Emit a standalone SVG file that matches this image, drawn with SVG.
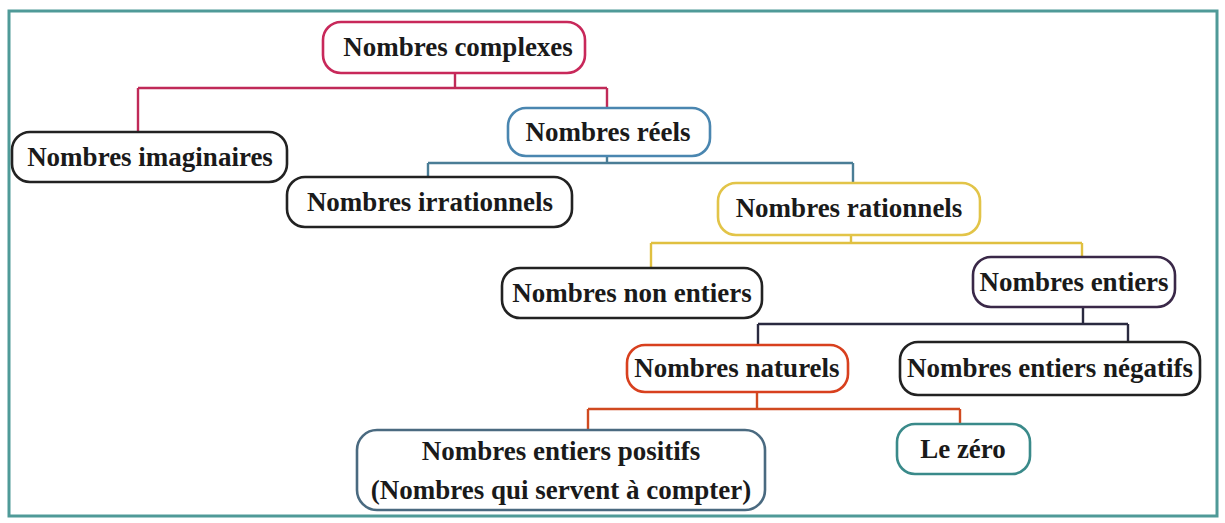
<svg xmlns="http://www.w3.org/2000/svg" width="1225" height="523" viewBox="0 0 1225 523">
<style>
.frame{fill:#fff;stroke:#4f9a98;stroke-width:3}
.box{fill:#fff;stroke-width:2.6}
.t{font-family:"Liberation Serif","Times New Roman",serif;font-weight:bold;font-size:27px;fill:#1a1a1a;text-anchor:middle;dominant-baseline:central}
.c{fill:none;stroke-width:2.4}
</style>
<rect width="1225" height="523" fill="#fff"/>
<rect class="frame" x="9" y="11" width="1208" height="505"/>
<g id="connectors">
<path class="c" stroke="#c02a58" d="M455 73V88M138 88H607M138 88V132M607 88V108"/>
<path class="c" stroke="#4a7d96" d="M607 156V163M428 163H853M428 163V177M853 163V183"/>
<path class="c" stroke="#e0c040" d="M851 235V243M651 243H1082M651 243V268M1082 243V258"/>
<path class="c" stroke="#2a2a40" d="M1083 307V324M758 324H1128M758 324V345M1128 324V342"/>
<path class="c" stroke="#d04a20" d="M757 392V409M588 409H960M588 409V430M960 409V425"/>
</g>
<g id="n-complexes"><rect class="box" stroke="#c8285a" x="323" y="22" width="262" height="51" rx="18"/><text class="t" x="458" y="47">Nombres complexes</text></g>
<g id="n-imaginaires"><rect class="box" stroke="#222" x="12" y="132" width="275" height="50" rx="18"/><text class="t" x="150" y="157">Nombres imaginaires</text></g>
<g id="n-reels"><rect class="box" stroke="#4a86b0" x="508" y="108" width="202" height="48" rx="18"/><text class="t" x="608" y="132">Nombres réels</text></g>
<g id="n-irrationnels"><rect class="box" stroke="#222" x="287" y="177" width="285" height="50" rx="18"/><text class="t" x="430" y="202">Nombres irrationnels</text></g>
<g id="n-rationnels"><rect class="box" stroke="#e2c448" x="718" y="183" width="262" height="52" rx="18"/><text class="t" x="849" y="208">Nombres rationnels</text></g>
<g id="n-nonentiers"><rect class="box" stroke="#222" x="502" y="268" width="260" height="50" rx="18"/><text class="t" x="632" y="293">Nombres non entiers</text></g>
<g id="n-entiers"><rect class="box" stroke="#3a2848" x="973" y="257" width="202" height="50" rx="18"/><text class="t" x="1074" y="282">Nombres entiers</text></g>
<g id="n-naturels"><rect class="box" stroke="#d8401e" x="627" y="345" width="221" height="47" rx="18"/><text class="t" x="737" y="368">Nombres naturels</text></g>
<g id="n-negatifs"><rect class="box" stroke="#222" x="900" y="342" width="300" height="53" rx="18"/><text class="t" x="1050" y="368">Nombres entiers négatifs</text></g>
<g id="n-positifs"><rect class="box" stroke="#4a6a80" x="357" y="430" width="408" height="80" rx="20"/><text class="t" x="561" y="451">Nombres entiers positifs</text><text class="t" x="561" y="490">(Nombres qui servent à compter)</text></g>
<g id="n-zero"><rect class="box" stroke="#3a8a8a" x="897" y="424" width="133" height="50" rx="18"/><text class="t" x="963" y="449">Le zéro</text></g>
</svg>
